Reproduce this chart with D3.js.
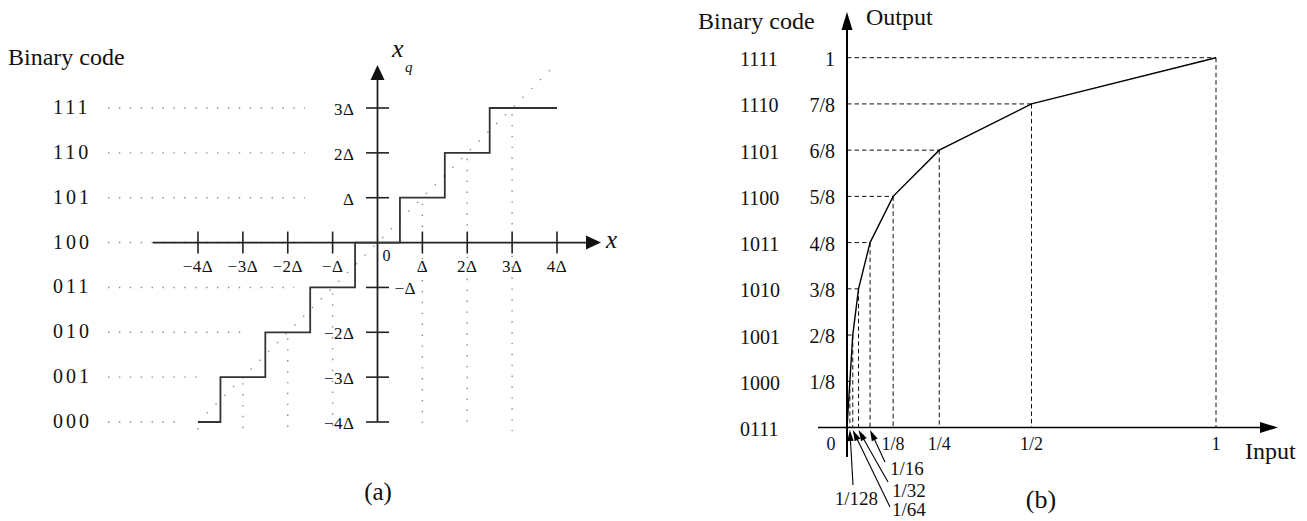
<!DOCTYPE html>
<html>
<head>
<meta charset="utf-8">
<script src="https://d3js.org/d3.v7.min.js"></script>
<style>
  body { margin: 0; background: #fff; }
  text { font-family: "Liberation Serif", "Times New Roman", serif; fill: #111; }
</style>
</head>
<body>
<svg width="1307" height="521"></svg>
<script>
// ---- panel (a): uniform quantizer ----
const codesA = ["000", "001", "010", "011", "100", "101", "110", "111"];
const levelsA = [-4, -3, -2, -1, 0, 1, 2, 3];          // output level (in Δ) of each code
const edgesA = [-4, -3.5, -2.5, -1.5, -0.5, 0.5, 1.5, 2.5, 4]; // input range of each level
const xTicksA = [-4, -3, -2, -1, 1, 2, 3, 4];
const xTickLabelsA = ["−4Δ", "−3Δ", "−2Δ", "−Δ", "Δ", "2Δ", "3Δ", "4Δ"];
const yTicksA = [-4, -3, -2, -1, 1, 2, 3];
const yTickLabelsA = ["−4Δ", "−3Δ", "−2Δ", "−Δ", "Δ", "2Δ", "3Δ"];
const dropsA = [-4, -3, -2, -1, 1, 2, 3];               // dotted lines from x = xq down

// ---- panel (b): piecewise-linear companding ----
const codesB = ["0111", "1000", "1001", "1010", "1011", "1100", "1101", "1110", "1111"];
const outB = [0, 1/8, 2/8, 3/8, 4/8, 5/8, 6/8, 7/8, 1];
const outLabelsB = ["", "1/8", "2/8", "3/8", "4/8", "5/8", "6/8", "7/8", "1"];
const inB = [0, 1/128, 1/64, 1/32, 1/16, 1/8, 1/4, 1/2, 1];
const xTicksB = [0, 1/8, 1/4, 1/2, 1];
const xTickLabelsB = ["0", "1/8", "1/4", "1/2", "1"];
const smallB = [1/16, 1/32, 1/64, 1/128];
const smallLabelsB = ["1/16", "1/32", "1/64", "1/128"];

const svg = d3.select("svg");
svg.append("rect").attr("width", 1307).attr("height", 521).attr("fill", "#fff");

function tri(g, tip, dir, len, half, color) {
  // filled arrow head, dir = unit vector pointing to the tip
  const bx = tip[0] - dir[0] * len, by = tip[1] - dir[1] * len;
  const px = -dir[1] * half, py = dir[0] * half;
  g.append("path")
    .attr("d", `M${tip[0]},${tip[1]}L${bx + px},${by + py}L${bx - px},${by - py}Z`)
    .attr("fill", color);
}

// ================= (a) =================
const xa = d3.scaleLinear().domain([-4, 4]).range([198, 557]);
const ya = d3.scaleLinear().domain([-4, 3]).range([422, 108]);
const ga = svg.append("g");
const dotted = "#8a8a8a";

ga.append("text").attr("x", 8).attr("y", 65).style("font-size", "24px").text("Binary code");

// code rows + dotted guides
codesA.forEach(function(c, i) {
  const k = levelsA[i];
  let end = 305;
  if (k < 0) end = Math.min(end, xa(edgesA[i]) - 16);
  ga.append("line").attr("x1", 108).attr("x2", end)
    .attr("y1", ya(k)).attr("y2", ya(k))
    .attr("stroke", dotted).attr("stroke-width", 1.4).attr("stroke-dasharray", "1.4,9.5");
  ga.append("text").attr("x", 53).attr("y", ya(k) + 6)
    .style("font-size", "20px").style("letter-spacing", "3px").text(c);
});

// dotted x = xq line and drops
ga.append("line").attr("x1", xa(-4)).attr("y1", ya(-4)).attr("x2", xa(3.9)).attr("y2", ya(3.9))
  .attr("stroke", dotted).attr("stroke-width", 1.4).attr("stroke-dasharray", "1.4,11");
dropsA.forEach(function(k) {
  ga.append("line").attr("x1", xa(k)).attr("x2", xa(k)).attr("y1", ya(k) + 6).attr("y2", 431)
    .attr("stroke", dotted).attr("stroke-width", 1.4).attr("stroke-dasharray", "1.4,9.5");
});

// axes
const y0a = ya(0), x0a = xa(0);
ga.append("line").attr("x1", 153).attr("x2", 588).attr("y1", y0a).attr("y2", y0a)
  .attr("stroke", "#222").attr("stroke-width", 1.8);
tri(ga, [601, y0a], [1, 0], 15, 7, "#111");
ga.append("line").attr("x1", x0a).attr("x2", x0a).attr("y1", ya(-4)).attr("y2", 78)
  .attr("stroke", "#222").attr("stroke-width", 1.8);
tri(ga, [x0a, 65], [0, -1], 15, 7, "#111");

xTicksA.forEach(function(k, i) {
  ga.append("line").attr("x1", xa(k)).attr("x2", xa(k)).attr("y1", y0a - 11).attr("y2", y0a + 11)
    .attr("stroke", "#222").attr("stroke-width", 1.6);
  ga.append("text").attr("x", xa(k)).attr("y", 272).attr("text-anchor", "middle")
    .style("font-size", "17px").style("letter-spacing", "0.5px").text(xTickLabelsA[i]);
});
yTicksA.forEach(function(k, i) {
  ga.append("line").attr("x1", x0a - 11.5).attr("x2", x0a + 11.5).attr("y1", ya(k)).attr("y2", ya(k))
    .attr("stroke", "#222").attr("stroke-width", 1.6);
  const right = k === -1;
  ga.append("text").attr("x", right ? x0a + 17 : x0a - 23).attr("y", ya(k) + 7)
    .attr("text-anchor", right ? "start" : "end")
    .style("font-size", "17px").style("letter-spacing", "0.5px").text(yTickLabelsA[i]);
});
ga.append("text").attr("x", x0a + 5).attr("y", 261).style("font-size", "16px").text("0");

// staircase
const stairs = levelsA.map(function(k, i) { return [edgesA[i], k]; });
stairs.push([edgesA[edgesA.length - 1], levelsA[levelsA.length - 1]]);
ga.append("path")
  .attr("d", d3.line().x(d => xa(d[0])).y(d => ya(d[1])).curve(d3.curveStepAfter)(stairs))
  .attr("fill", "none").attr("stroke", "#333").attr("stroke-width", 1.8);

// axis names
ga.append("text").attr("x", 392).attr("y", 57).style("font-size", "26px").style("font-style", "italic").text("x");
ga.append("text").attr("x", 405).attr("y", 72).style("font-size", "15px").style("font-style", "italic").text("q");
ga.append("text").attr("x", 606).attr("y", 248).style("font-size", "25px").style("font-style", "italic").text("x");

ga.append("text").attr("x", 378).attr("y", 500).attr("text-anchor", "middle")
  .style("font-size", "25px").text("(a)");

// ================= (b) =================
const xb = d3.scaleLinear().domain([0, 1]).range([847, 1216]);
const yb = d3.scaleLinear().domain([0, 1]).range([427.5, 57.7]);
const gb = svg.append("g");

gb.append("text").attr("x", 698).attr("y", 29).style("font-size", "24px").text("Binary code");
gb.append("text").attr("x", 866).attr("y", 25).style("font-size", "24px").text("Output");
gb.append("text").attr("x", 1245).attr("y", 459).style("font-size", "24px").text("Input");

codesB.forEach(function(c, i) {
  gb.append("text").attr("x", 740).attr("y", yb(outB[i]) + 8.5).style("font-size", "20px").text(c);
  if (outLabelsB[i])
    gb.append("text").attr("x", 835).attr("y", yb(outB[i]) + 8).attr("text-anchor", "end")
      .style("font-size", "20px").text(outLabelsB[i]);
});

// dashed guides
inB.forEach(function(v, i) {
  if (i === 0) return;
  gb.append("line").attr("x1", xb(0)).attr("x2", xb(v)).attr("y1", yb(outB[i])).attr("y2", yb(outB[i]))
    .attr("stroke", "#111").attr("stroke-width", 1).attr("stroke-dasharray", "4.5,3");
  gb.append("line").attr("x1", xb(v)).attr("x2", xb(v)).attr("y1", yb(outB[i])).attr("y2", yb(0))
    .attr("stroke", "#111").attr("stroke-width", 1).attr("stroke-dasharray", "4.5,3");
});

// axes
gb.append("line").attr("x1", 818).attr("x2", 1262).attr("y1", yb(0)).attr("y2", yb(0))
  .attr("stroke", "#000").attr("stroke-width", 1.6);
tri(gb, [1278, yb(0)], [1, 0], 18, 5.5, "#000");
gb.append("line").attr("x1", xb(0)).attr("x2", xb(0)).attr("y1", 457).attr("y2", 28)
  .attr("stroke", "#000").attr("stroke-width", 2);
tri(gb, [xb(0), 12], [0, -1], 18, 5.5, "#000");

xTicksB.forEach(function(v, i) {
  gb.append("text").attr("x", i === 0 ? xb(v) - 16 : xb(v)).attr("y", 450).attr("text-anchor", "middle")
    .style("font-size", "18px").text(xTickLabelsB[i]);
});

// compander curve
gb.append("path")
  .attr("d", d3.line().x(d => xb(d[0])).y(d => yb(d[1]))(inB.map((v, i) => [v, outB[i]])))
  .attr("fill", "none").attr("stroke", "#000").attr("stroke-width", 1.4);

// small-input call-outs
const tails = [[885, 462], [888, 482], [890, 507], [853, 485]];
const labelPos = [[890, 475, "start"], [892, 497, "start"], [892, 516, "start"], [878, 505, "end"]];
smallB.forEach(function(v, i) {
  const tip = [xb(v), 430];
  const dx = tip[0] - tails[i][0], dy = tip[1] - tails[i][1];
  const len = Math.sqrt(dx * dx + dy * dy);
  const dir = [dx / len, dy / len];
  gb.append("line").attr("x1", tails[i][0]).attr("y1", tails[i][1])
    .attr("x2", tip[0] - dir[0] * 8).attr("y2", tip[1] - dir[1] * 8)
    .attr("stroke", "#000").attr("stroke-width", 1.1);
  tri(gb, tip, dir, 11, 3.2, "#000");
  gb.append("text").attr("x", labelPos[i][0]).attr("y", labelPos[i][1])
    .attr("text-anchor", labelPos[i][2]).style("font-size", "19px").text(smallLabelsB[i]);
});

gb.append("text").attr("x", 1041).attr("y", 508).attr("text-anchor", "middle")
  .style("font-size", "26px").text("(b)");
</script>
</body>
</html>
